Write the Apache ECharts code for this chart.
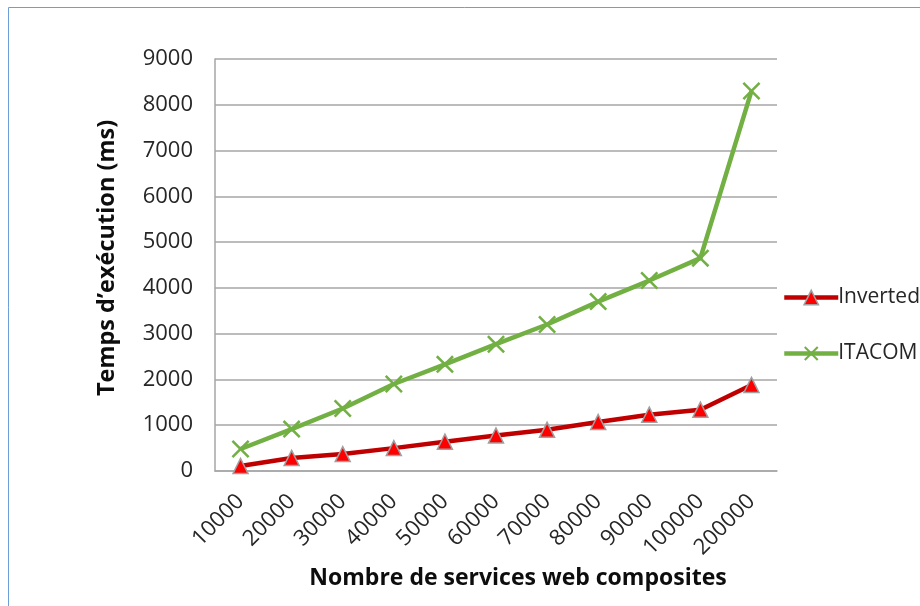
<!DOCTYPE html>
<html>
<head>
<meta charset="utf-8">
<title>Temps d'exécution</title>
<script src="https://cdn.jsdelivr.net/npm/echarts@6/dist/echarts.min.js"></script>
<style>
  html, body { margin: 0; padding: 0; background: #ffffff; }
  #chart { width: 920px; height: 606px; }
</style>
</head>
<body>
<div id="chart"></div>
<script>
// Number of composite web services (x categories)
const categories = ['10000', '20000', '30000', '40000', '50000', '60000', '70000', '80000', '90000', '100000', '200000'];
// Execution time in ms for each approach
const invertedValues = [110, 285, 370, 500, 640, 775, 900, 1070, 1230, 1340, 1880];
const itacomValues = [480, 915, 1365, 1900, 2330, 2770, 3200, 3700, 4160, 4650, 8300];
// Y axis scale
const yMin = 0;
const yMax = 9000;
const yStep = 1000;

const FONT = '"Open Sans", "Noto Sans", sans-serif';
const crossPath = 'path://M0,1 L1,0 L5,4 L9,0 L10,1 L6,5 L10,9 L9,10 L5,6 L1,10 L0,9 L4,5 Z';

const invertedLine = { color: '#c00000', width: 4.5 };
const invertedItem = { color: '#ff0000', borderColor: '#a0a0a0', borderWidth: 1.5 };
const itacomLine = { color: '#72b043', width: 4.5 };
const itacomItem = { color: '#72b043', borderWidth: 0 };

const chart = echarts.init(document.getElementById('chart'), null, { renderer: 'canvas' });

chart.setOption({
  backgroundColor: '#ffffff',
  animation: false,
  graphic: [{
    type: 'rect',
    shape: { x: 8.5, y: 7.5, width: 1200, height: 1200 },
    style: { fill: 'none', stroke: '#6d9ed6', lineWidth: 1 },
    silent: true
  }],
  grid: { left: 215, right: 143, top: 59, bottom: 135, containLabel: false },
  legend: {
    orient: 'vertical',
    left: 777,
    top: 282,
    itemWidth: 54,
    itemHeight: 18,
    itemGap: 35,
    textStyle: { fontFamily: FONT, fontSize: 21, color: '#262626', padding: [0, 0, 0, -5] },
    data: [
      { name: 'Inverted', itemStyle: invertedItem, lineStyle: invertedLine },
      { name: 'ITACOM', itemStyle: itacomItem, lineStyle: itacomLine }
    ]
  },
  xAxis: {
    type: 'category',
    data: categories,
    boundaryGap: true,
    name: 'Nombre de services web composites',
    nameLocation: 'middle',
    nameGap: 96,
    nameTextStyle: { fontFamily: FONT, fontSize: 23, fontWeight: 'bold', color: '#0d0d0d', padding: [0, 0, 0, 44] },
    axisLine: { lineStyle: { color: '#a6a6a6', width: 1.5 } },
    axisTick: { show: false },
    axisLabel: {
      interval: 0,
      rotate: 45,
      margin: 27,
      fontFamily: FONT,
      fontSize: 22,
      color: '#262626'
    }
  },
  yAxis: {
    type: 'value',
    min: yMin,
    max: yMax,
    interval: yStep,
    name: 'Temps d\u2019exécution (ms)',
    nameLocation: 'middle',
    nameGap: 96,
    nameRotate: 90,
    nameTextStyle: { fontFamily: FONT, fontSize: 23.5, fontWeight: 'bold', color: '#0d0d0d', padding: [0, 0, 0, 14] },
    axisLine: { show: true, lineStyle: { color: '#a6a6a6', width: 1.5 } },
    axisTick: { show: false },
    splitLine: { lineStyle: { color: '#a6a6a6', width: 1.5 } },
    axisLabel: {
      margin: 22,
      fontFamily: FONT,
      fontSize: 22,
      color: '#262626',
      formatter: (v) => String(v)
    }
  },
  series: [
    {
      name: 'Inverted',
      type: 'line',
      data: invertedValues,
      symbol: 'triangle',
      symbolSize: 15,
      lineStyle: invertedLine,
      itemStyle: invertedItem,
      z: 3
    },
    {
      name: 'ITACOM',
      type: 'line',
      data: itacomValues,
      symbol: crossPath,
      symbolSize: 18,
      lineStyle: itacomLine,
      itemStyle: itacomItem,
      z: 2
    }
  ]
});
</script>
</body>
</html>
